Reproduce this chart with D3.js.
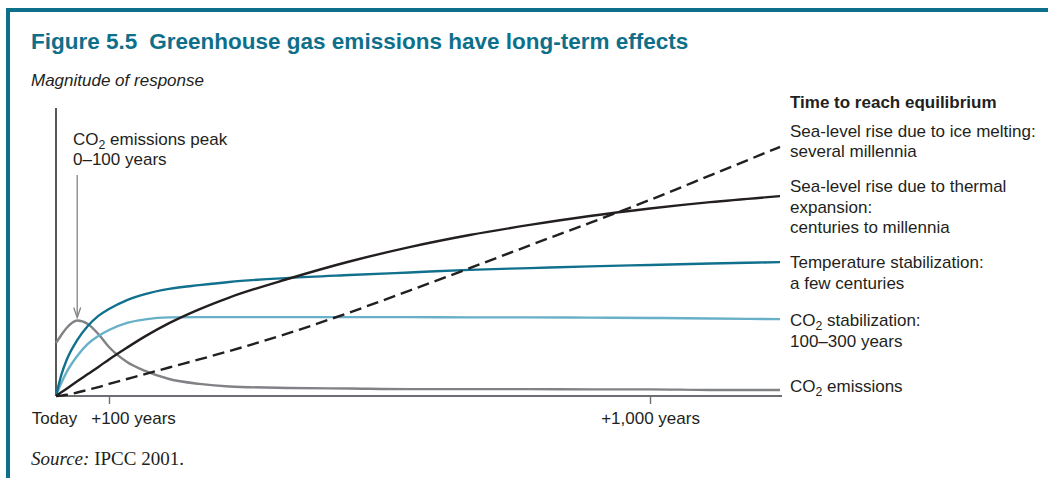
<!DOCTYPE html>
<html>
<head>
<meta charset="utf-8">
<script src="https://cdn.jsdelivr.net/npm/d3@7"></script>
<style>
  html, body { margin: 0; padding: 0; background: #fff; }
  svg { display: block; font-family: "Liberation Sans", Arial, Helvetica, sans-serif; }
</style>
</head>
<body>
<svg id="chart" width="1048" height="478"></svg>
<script>
// ---- Data ----
const years = [0, 10, 20, 40, 60, 80, 100, 130, 160, 200, 250, 300, 400, 500, 600, 700, 800, 900, 1000, 1100, 1216];
const co2Emissions   = [18.4, 21.2, 23.6, 26.2, 25.0, 21.5, 17.0, 11.8, 8.7, 5.9, 4.2, 3.3, 2.8, 2.6, 2.4, 2.4, 2.4, 2.3, 2.3, 2.1, 2.1];
const co2Stabil      = [0, 4.5, 8.3, 13.9, 18.1, 20.8, 22.9, 25.4, 26.6, 27.3, 27.4, 27.4, 27.4, 27.4, 27.4, 27.3, 27.3, 27.2, 27.1, 26.9, 26.7];
const tempStabil     = [0, 7.3, 12.5, 19.4, 24.3, 27.8, 30.2, 33.3, 35.4, 37.2, 38.5, 39.6, 41.0, 42.0, 42.9, 43.8, 44.4, 45.0, 45.5, 46.0, 46.5];
const seaThermal     = [0, 1.27, 2.54, 5.1, 7.6, 10.1, 12.7, 16.8, 20.7, 25.3, 30.1, 34.2, 40.8, 46.7, 51.7, 55.9, 59.4, 62.5, 65.1, 67.3, 69.4];
const seaIce         = [0, 0.14, 0.42, 1.2, 2.15, 3.1, 4.2, 5.9, 7.6, 9.9, 12.7, 15.6, 21.9, 29.0, 36.6, 44.4, 52.3, 60.1, 68.1, 76.6, 86.5];
const peakYear = 40;
const tickYears = [0, 100, 1000];
const tickLabels = ["Today", "+100 years", "+1,000 years"];

const titleText = ["Figure 5.5", "Greenhouse gas emissions have long-term effects"];
const yTitle = "Magnitude of response";
const legendTitle = "Time to reach equilibrium";
const peakLabel = [["CO", "2", " emissions peak"], ["0\u2013100 years"]];
const seriesLabels = [
  { key: "ice",     lines: [["Sea-level rise due to ice melting:"], ["several millennia"]] },
  { key: "thermal", lines: [["Sea-level rise due to thermal"], ["expansion:"], ["centuries to millennia"]] },
  { key: "temp",    lines: [["Temperature stabilization:"], ["a few centuries"]] },
  { key: "co2s",    lines: [["CO", "2", " stabilization:"], ["100\u2013300 years"]] },
  { key: "co2e",    lines: [["CO", "2", " emissions"]] }
];
const sourceText = ["Source:", " IPCC 2001."];

// ---- Styles ----
const teal = "#0e6f8b";
const colors = { co2e: "#808285", co2s: "#68b0c8", temp: "#11708d", thermal: "#231f20", ice: "#231f20" };
const textColor = "#231f20";
const fs = 17;

const svg = d3.select("#chart");

// Border
svg.append("rect").attr("x", 6).attr("y", 8).attr("width", 1042).attr("height", 4).attr("fill", teal);
svg.append("rect").attr("x", 6).attr("y", 8).attr("width", 4).attr("height", 470).attr("fill", teal);

// Title
const t = svg.append("text").attr("x", 31).attr("y", 49)
  .attr("fill", teal).attr("font-weight", "bold").attr("font-size", 22.5);
t.append("tspan").text(titleText[0]);
t.append("tspan").attr("dx", 12).text(titleText[1]);

svg.append("text").attr("x", 31).attr("y", 86).attr("font-style", "italic")
  .attr("font-size", fs).attr("fill", textColor).text(yTitle);

// Scales
const x = d3.scaleLinear().domain([0, 100, 1000, 1216]).range([56, 109, 650, 780]);
const y = d3.scaleLinear().domain([0, 100]).range([396, 108]);

// Y axis line
svg.append("line").attr("x1", x(0)).attr("x2", x(0)).attr("y1", y(100)).attr("y2", y(0))
  .attr("stroke", "#231f20").attr("stroke-width", 1.5);

// X axis
const xAxis = d3.axisBottom(x).tickValues(tickYears).tickSize(8).tickSizeOuter(0)
  .tickFormat((d, i) => tickLabels[i]);
const gx = svg.append("g").attr("transform", `translate(0,${y(0)})`).call(xAxis);
gx.select(".domain").attr("stroke", "#6d6e71").attr("stroke-width", 2.2)
  .attr("d", `M${x(0)},0H${x(1216) + 2}`);
gx.selectAll(".tick line").attr("stroke", "#6d6e71").attr("stroke-width", 1.4);
gx.selectAll(".tick").filter(d => d === 0).select("line").remove();
gx.selectAll(".tick text").attr("font-size", fs).attr("fill", textColor)
  .attr("font-family", "'Liberation Sans', Arial, sans-serif").attr("y", 0).attr("dy", 28);
gx.selectAll(".tick text").filter(d => d === 100).attr("dx", 24);
gx.selectAll(".tick text").filter(d => d === 0).attr("dx", -2);

// Lines
const line = d3.line().x((d, i) => x(years[i])).y(d => y(d)).curve(d3.curveMonotoneX);
const series = [
  { key: "co2e", values: co2Emissions, width: 2.4 },
  { key: "co2s", values: co2Stabil, width: 2.4 },
  { key: "temp", values: tempStabil, width: 2.4 },
  { key: "ice", values: seaIce, width: 2.4, dash: "12,6" },
  { key: "thermal", values: seaThermal, width: 2.4 }
];
svg.append("g").selectAll("path").data(series).join("path")
  .attr("d", s => line(s.values))
  .attr("fill", "none")
  .attr("stroke", s => colors[s.key])
  .attr("stroke-width", s => s.width)
  .attr("stroke-dasharray", s => s.dash || null);

// Peak arrow
const peakIdx = years.indexOf(peakYear);
const px = x(peakYear), py = y(co2Emissions[peakIdx]) - 3;
svg.append("line").attr("x1", px).attr("x2", px).attr("y1", 175).attr("y2", py - 2)
  .attr("stroke", "#808285").attr("stroke-width", 1.3);
svg.append("path").attr("d", `M${px - 3.5},${py - 10}L${px},${py}L${px + 3.5},${py - 10}`)
  .attr("fill", "none").attr("stroke", "#808285").attr("stroke-width", 1.3);

function addLine(sel, parts) {
  sel.append("tspan").text(parts[0]);
  if (parts.length > 1) {
    sel.append("tspan").attr("dy", 4).attr("font-size", fs * 0.72).text(parts[1]);
    sel.append("tspan").attr("dy", -4).text(parts[2]);
  }
}

// Peak label
peakLabel.forEach((ln, i) => {
  const tx = svg.append("text").attr("x", 73).attr("y", 145 + i * 20)
    .attr("font-size", fs).attr("fill", textColor);
  addLine(tx, ln);
});

// Legend title
svg.append("text").attr("x", 790).attr("y", 108).attr("font-size", fs)
  .attr("font-weight", "bold").attr("fill", textColor).text(legendTitle);

// Series labels, positioned relative to line ends
const endVals = { ice: seaIce, thermal: seaThermal, temp: tempStabil, co2s: co2Stabil, co2e: co2Emissions };
const labelOffsets = { ice: -10, thermal: -4, temp: 6, co2s: 7, co2e: 2 };
seriesLabels.forEach(l => {
  const v = endVals[l.key];
  const yEnd = y(v[v.length - 1]);
  l.lines.forEach((ln, i) => {
    const tx = svg.append("text").attr("x", 790)
      .attr("y", yEnd + labelOffsets[l.key] + i * 20.5)
      .attr("font-size", fs).attr("fill", textColor);
    addLine(tx, ln);
  });
});

// Source
const src = svg.append("text").attr("x", 31).attr("y", 465).attr("font-size", 19)
  .attr("font-family", "'Liberation Serif', 'Times New Roman', serif").attr("fill", textColor);
src.append("tspan").attr("font-style", "italic").text(sourceText[0]);
src.append("tspan").text(sourceText[1]);
</script>
</body>
</html>
